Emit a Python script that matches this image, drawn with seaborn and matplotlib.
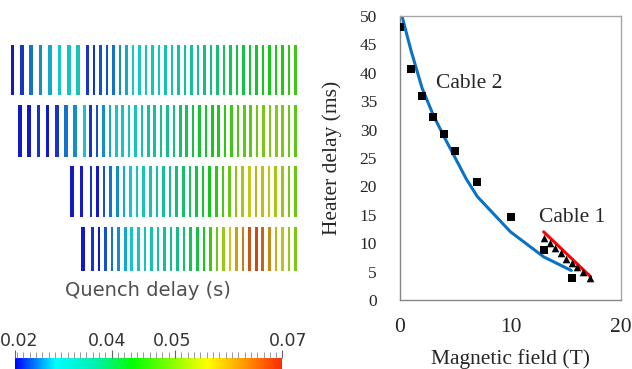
import numpy as np
import matplotlib
matplotlib.use("Agg")
import matplotlib.pyplot as plt
from matplotlib.colors import LinearSegmentedColormap, Normalize
from matplotlib.ticker import MultipleLocator, FixedLocator
from matplotlib.transforms import ScaledTranslation
import seaborn as sns

# ---------------- data ----------------
# quench delay (s) per strand, four cable layers (left panel)
row1_delay = [0.025, 0.026, 0.028, 0.029, 0.030, 0.031, 0.032, 0.033,
              0.026, 0.026, 0.027, 0.027, 0.028, 0.029, 0.030, 0.031, 0.031, 0.032,
              0.032, 0.033, 0.034, 0.034, 0.035, 0.036, 0.036, 0.037, 0.038, 0.038,
              0.039, 0.040, 0.040, 0.041, 0.041, 0.042, 0.042, 0.043, 0.043, 0.044,
              0.044, 0.045, 0.046]
row2_delay = [0.025, 0.025, 0.026, 0.025, 0.026, 0.028, 0.029,
              0.031, 0.026, 0.027, 0.029, 0.030, 0.031, 0.032, 0.033, 0.033, 0.034,
              0.035, 0.036, 0.037, 0.037, 0.038, 0.039, 0.040, 0.041, 0.042, 0.042,
              0.043, 0.044, 0.045, 0.046, 0.047, 0.048, 0.048, 0.049, 0.050, 0.050,
              0.051, 0.050, 0.049, 0.048]
row3_delay = [0.025, 0.025,
              0.026, 0.025, 0.027, 0.028, 0.029, 0.030, 0.031, 0.032, 0.033, 0.034,
              0.035, 0.036, 0.037, 0.038, 0.039, 0.040, 0.041, 0.042, 0.043, 0.045,
              0.047, 0.049, 0.051, 0.053, 0.055, 0.057, 0.056, 0.054, 0.053, 0.052,
              0.050, 0.049]
row4_delay = [0.025,
              0.026, 0.025, 0.027, 0.028, 0.029, 0.030, 0.031, 0.032, 0.033, 0.034,
              0.035, 0.036, 0.037, 0.038, 0.039, 0.040, 0.041, 0.043, 0.046, 0.049,
              0.052, 0.055, 0.058, 0.061, 0.064, 0.065, 0.063, 0.060, 0.057, 0.054,
              0.052, 0.050]
row_delays = [row1_delay, row2_delay, row3_delay, row4_delay]
delay_min, delay_max = 0.0247, 0.0669
cbar_ticks = [0.04, 0.05]

# right panel: heater delay vs magnetic field
cable2_B = [0, 1, 2, 3, 4, 5, 7, 10, 13, 15.55]
cable2_meas = [48.0, 40.6, 36.0, 32.3, 29.2, 26.2, 20.8, 14.6, 8.75, 3.8]
cable2_fit_B = [0, 1, 2, 3, 4, 5, 6, 7, 10, 13, 15.5]
cable2_fit = [51.3, 43.9, 37.3, 32.6, 28.7, 25.0, 21.3, 18.2, 12.0, 7.6, 5.2]
cable1_B = [13.0, 13.54, 14.05, 14.53, 15.05, 15.55, 16.04, 16.55, 17.15]
cable1_meas = [11.0, 10.0, 9.1, 8.2, 7.3, 6.5, 5.75, 4.9, 3.8]
cable1_fit_B = [13.0, 17.25]
cable1_fit = [12.0, 4.1]

# ---------------- figure ----------------
sns.set_theme(style="white")
W, H = 632, 369
fig = plt.figure(figsize=(W / 100, H / 100), dpi=100)

cmap = LinearSegmentedColormap.from_list(
    "qd", [(0.0, "#0000ff"), (0.15, "#00ffff"), (0.30, "#00f0b0"),
           (0.44, "#00ff00"), (0.72, "#ffff00"), (0.86, "#ff9900"),
           (1.0, "#ff2a00")])
norm = Normalize(delay_min, delay_max)

# left panel (coordinates in pixels)
axl = fig.add_axes([0, 0, 310 / W, 1])
axl.set_xlim(0, 310)
axl.set_ylim(H, 0)
axl.axis("off")

row_top = [45, 105, 166, 227]
row_bot = [95, 157, 217, 271]
n_wide = [8, 7, 2, 1]
wide_start = [12.3, 20.0, 71.7, 82.7]
wide_step = [9.4, 9.2, 9.6, 9.8]
row_end = 295.5
for k, vals in enumerate(row_delays):
    vals = np.array(vals)
    nw = n_wide[k]
    nn = len(vals) - nw
    xs_w = wide_start[k] + wide_step[k] * np.arange(nw)
    ns = wide_start[k] + wide_step[k] * nw
    xs_n = np.linspace(ns, row_end, nn)
    xs = np.concatenate([xs_w, xs_n])
    widths = np.array([3.6] * nw + [2.6] * nn)
    cols = cmap(norm(vals))
    cols[:, :3] = cols[:, :3] * 0.70 + 0.08
    axl.bar(xs, row_bot[k] - row_top[k], bottom=row_top[k], width=widths,
            color=cols, linewidth=0, align="center")

axl.text(148, 290, "Quench delay (s)", ha="center", va="center",
         fontsize=14, color="#505050", family="DejaVu Sans")

# colorbar
cax = fig.add_axes([15 / W, 0, 267 / W, 11 / H])
grad = np.linspace(delay_min, delay_max, 256).reshape(1, -1)
cax.imshow(grad, cmap=cmap, norm=norm, aspect="auto",
           extent=[delay_min, delay_max, 0, 1])
cax.set_xlim(delay_min, delay_max)
cax.set_yticks([])
for s in cax.spines.values():
    s.set_visible(False)
cax.xaxis.set_ticks_position("top")
cb_vals = [delay_min] + cbar_ticks + [delay_max]
cax.xaxis.set_major_locator(FixedLocator(cb_vals))
cax.set_xticklabels([f"{v:.2f}" for v in cb_vals])
cax.xaxis.set_minor_locator(MultipleLocator(0.001))
cax.tick_params(axis="x", which="major", direction="out", length=5.5, width=0.8,
                color="#666666", labelsize=12.5, labelcolor="#333333", pad=0)
cax.tick_params(axis="x", which="minor", direction="out", length=4, width=0.6,
                color="#888888")
labs = cax.get_xticklabels()
for lab in labs:
    lab.set_family("DejaVu Sans")
labs[0].set_transform(labs[0].get_transform() +
                      ScaledTranslation(4 / 100, 0, fig.dpi_scale_trans))
labs[1].set_transform(labs[1].get_transform() +
                      ScaledTranslation(-5 / 100, 0, fig.dpi_scale_trans))
labs[2].set_transform(labs[2].get_transform() +
                      ScaledTranslation(-3 / 100, 0, fig.dpi_scale_trans))
labs[-1].set_transform(labs[-1].get_transform() +
                       ScaledTranslation(6 / 100, 0, fig.dpi_scale_trans))

# right panel
ax = fig.add_axes([400 / W, (H - 300) / H, 221 / W, 284 / H])
serif = "Liberation Serif"
sns.lineplot(x=cable2_fit_B, y=cable2_fit, ax=ax, color="#0a72c4", lw=2.2,
             sort=False, estimator=None)
sns.lineplot(x=cable1_fit_B, y=cable1_fit, ax=ax, color="#ff0000", lw=2.2,
             sort=False, estimator=None)
sns.scatterplot(x=cable2_B, y=cable2_meas, ax=ax, marker="s", color="black",
                s=34, linewidth=0, zorder=5)
sns.scatterplot(x=cable1_B, y=cable1_meas, ax=ax, marker="^", color="black",
                s=30, linewidth=0, zorder=5)
ax.set_xlim(0, 20)
ax.set_ylim(0, 50)
ax.xaxis.set_major_locator(MultipleLocator(10))
ax.xaxis.set_minor_locator(MultipleLocator(2))
ax.yaxis.set_major_locator(MultipleLocator(5))
ax.yaxis.set_minor_locator(MultipleLocator(2.5))
ax.tick_params(axis="x", which="both", direction="out", length=4.3, width=1,
               color="#868686")
ax.tick_params(axis="y", which="both", direction="out", length=3.6, width=1,
               color="#868686")
ax.tick_params(axis="x", labelsize=15.5, pad=8.5)
ax.tick_params(axis="y", labelsize=12.5, pad=13)
for lab in ax.get_xticklabels() + ax.get_yticklabels():
    lab.set_family(serif)
ax.set_xlabel("Magnetic field (T)", fontsize=15.5, family=serif, labelpad=9)
ax.set_ylabel("Heater delay (ms)", fontsize=15.5, family=serif, labelpad=13)
for side in ["left", "bottom"]:
    ax.spines[side].set_color("#868686")
    ax.spines[side].set_linewidth(1.0)
for side in ["top", "right"]:
    ax.spines[side].set_color("#a6a6a6")
    ax.spines[side].set_linewidth(1.0)
ax.text(3.3, 38.2, "Cable 2", fontsize=15.5, family=serif, va="center")
ax.text(12.6, 14.6, "Cable 1", fontsize=15.5, family=serif, va="center")

fig.savefig("out.png", dpi=100)
